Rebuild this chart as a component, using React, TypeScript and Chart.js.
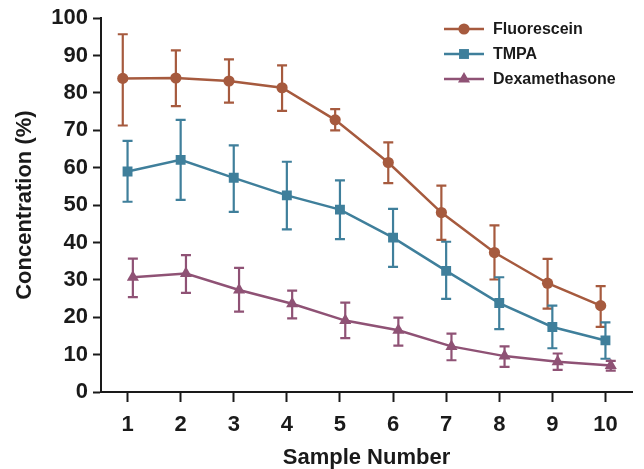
import React, { useEffect, useRef } from "react";
import { Chart, registerables } from "chart.js";

Chart.register(...registerables);

const samples = [1, 2, 3, 4, 5, 6, 7, 8, 9, 10];
const yTicks = [0, 10, 20, 30, 40, 50, 60, 70, 80, 90, 100];

const fluorescein = [83.9, 84.0, 83.2, 81.4, 72.8, 61.4, 48.0, 37.3, 29.1, 23.1];
const fluoresceinUpper = [95.7, 91.4, 89.0, 87.4, 75.7, 66.8, 55.2, 44.6, 35.6, 28.3];
const fluoresceinLower = [71.3, 76.5, 77.4, 75.2, 70.0, 55.9, 40.7, 30.1, 22.3, 17.4];

const tmpa = [59.0, 62.1, 57.3, 52.6, 48.8, 41.3, 32.4, 23.8, 17.4, 13.8];
const tmpaUpper = [67.2, 72.8, 66.0, 61.6, 56.6, 49.0, 40.2, 30.7, 23.1, 18.6];
const tmpaLower = [50.9, 51.4, 48.2, 43.5, 40.9, 33.5, 24.9, 16.8, 11.7, 8.9];

const dexamethasone = [30.7, 31.7, 27.3, 23.6, 19.1, 16.5, 12.2, 9.6, 8.1, 7.1];
const dexamethasoneUpper = [35.7, 36.6, 33.2, 27.1, 23.9, 19.9, 15.6, 12.2, 10.3, 8.3];
const dexamethasoneLower = [25.4, 26.5, 21.5, 19.7, 14.4, 12.4, 8.5, 6.7, 5.9, 5.7];

const seriesNames = ["Fluorescein", "TMPA", "Dexamethasone"];

const FONT = "'Liberation Sans', Arial, sans-serif";
const INK = "#1a1a1a";

const series = [
  { name: seriesNames[0], values: fluorescein, upper: fluoresceinUpper, lower: fluoresceinLower, color: "#a65a3e", style: "circle", radius: 5.6, dodge: -0.09 },
  { name: seriesNames[1], values: tmpa, upper: tmpaUpper, lower: tmpaLower, color: "#3f7f9b", style: "rect", radius: 7, dodge: 0 },
  { name: seriesNames[2], values: dexamethasone, upper: dexamethasoneUpper, lower: dexamethasoneLower, color: "#8f5275", style: "triangle", radius: 7, dodge: 0.1 },
];

function drawMarker(ctx: CanvasRenderingContext2D, style: string, r: number, x: number, y: number) {
  ctx.beginPath();
  if (style === "circle") {
    ctx.arc(x, y, r, 0, Math.PI * 2);
  } else if (style === "rect") {
    const s = Math.SQRT1_2 * r;
    ctx.rect(x - s, y - s, 2 * s, 2 * s);
  } else {
    const c = Math.cos(Math.PI / 6) * r;
    const d = Math.sin(Math.PI / 6) * r;
    ctx.moveTo(x, y - r);
    ctx.lineTo(x + c, y + d);
    ctx.lineTo(x - c, y + d);
    ctx.closePath();
  }
  ctx.fill();
}

const errorBarPlugin = {
  id: "errorBars",
  beforeDatasetsDraw(chart: any) {
    const { ctx } = chart;
    const xs = chart.scales.x;
    const ys = chart.scales.y;
    ctx.save();
    chart.data.datasets.forEach((ds: any) => {
      ctx.strokeStyle = ds.borderColor;
      ctx.lineWidth = 2.2;
      ds.data.forEach((p: any, i: number) => {
        const x = xs.getPixelForValue(p.x);
        const yt = ys.getPixelForValue(ds.upper[i]);
        const yb = ys.getPixelForValue(ds.lower[i]);
        const cw = 5;
        ctx.beginPath();
        ctx.moveTo(x, yt);
        ctx.lineTo(x, yb);
        ctx.moveTo(x - cw, yt);
        ctx.lineTo(x + cw, yt);
        ctx.moveTo(x - cw, yb);
        ctx.lineTo(x + cw, yb);
        ctx.stroke();
      });
    });
    ctx.restore();
  },
};

const legendPlugin = {
  id: "insideLegend",
  afterDraw(chart: any) {
    const { ctx } = chart;
    ctx.save();
    chart.data.datasets.forEach((ds: any, i: number) => {
      const y = 29 + i * 25;
      ctx.strokeStyle = ds.borderColor;
      ctx.lineWidth = 2.5;
      ctx.beginPath();
      ctx.moveTo(444, y);
      ctx.lineTo(484, y);
      ctx.stroke();
      ctx.fillStyle = ds.borderColor;
      drawMarker(ctx, ds.pointStyle, ds.pointRadius, 464, y);
      ctx.fillStyle = INK;
      ctx.font = `bold 16px ${FONT}`;
      ctx.textBaseline = "middle";
      ctx.textAlign = "left";
      ctx.fillText(ds.label, 493, y + 1);
    });
    ctx.restore();
  },
};

export default function App() {
  const ref = useRef<HTMLCanvasElement | null>(null);
  useEffect(() => {
    if (!ref.current) return;
    const chart = new Chart(ref.current, {
      type: "line",
      data: {
        datasets: series.map((s) => ({
          label: s.name,
          data: samples.map((n, i) => ({ x: n + s.dodge, y: s.values[i] })),
          upper: s.upper,
          lower: s.lower,
          borderColor: s.color,
          backgroundColor: s.color,
          pointBackgroundColor: s.color,
          pointBorderColor: s.color,
          pointBorderWidth: 0,
          pointStyle: s.style,
          pointRadius: s.radius,
          borderWidth: 2.5,
          tension: 0,
          fill: false,
        })) as any,
      },
      options: {
        animation: false,
        responsive: false,
        maintainAspectRatio: false,
        layout: { padding: { top: 16, right: 12, left: 0, bottom: 0 } },
        plugins: { legend: { display: false }, tooltip: { enabled: false } },
        scales: {
          x: {
            type: "linear",
            min: 0.5,
            max: 10.5,
            afterBuildTicks(scale: any) {
              scale.ticks = samples.map((v) => ({ value: v }));
            },
            afterFit(scale: any) {
              scale.height = 77;
            },
            border: { color: INK, width: 2 },
            grid: { display: true, drawOnChartArea: false, drawTicks: true, tickLength: 10, tickColor: INK, tickWidth: 2 },
            ticks: {
              color: INK,
              padding: 10,
              font: { family: FONT, size: 22, weight: "bold" },
              callback: (v: any) => String(v),
            },
            title: {
              display: true,
              text: "Sample Number",
              color: INK,
              padding: { top: 0, bottom: 0 },
              font: { family: FONT, size: 22, weight: "bold", lineHeight: 1 },
            },
          },
          y: {
            type: "linear",
            min: 0,
            max: 100,
            afterBuildTicks(scale: any) {
              scale.ticks = yTicks.map((v) => ({ value: v }));
            },
            afterFit(scale: any) {
              scale.width = 101;
            },
            border: { color: INK, width: 2 },
            grid: { display: true, drawOnChartArea: false, drawTicks: true, tickLength: 8, tickColor: INK, tickWidth: 2 },
            ticks: {
              color: INK,
              padding: 5,
              font: { family: FONT, size: 22, weight: "bold" },
            },
            title: {
              display: true,
              text: "Concentration (%)",
              color: INK,
              padding: { top: 12, bottom: 0 },
              font: { family: FONT, size: 22, weight: "bold" },
            },
          },
        },
      } as any,
      plugins: [errorBarPlugin, legendPlugin],
    });
    return () => chart.destroy();
  }, []);
  return (
    <div style={{ position: "absolute", left: 0, top: 0, width: 644, height: 469, background: "#fff" }}>
      <canvas ref={ref} width={644} height={469} style={{ width: 644, height: 469, display: "block" }} />
    </div>
  );
}
